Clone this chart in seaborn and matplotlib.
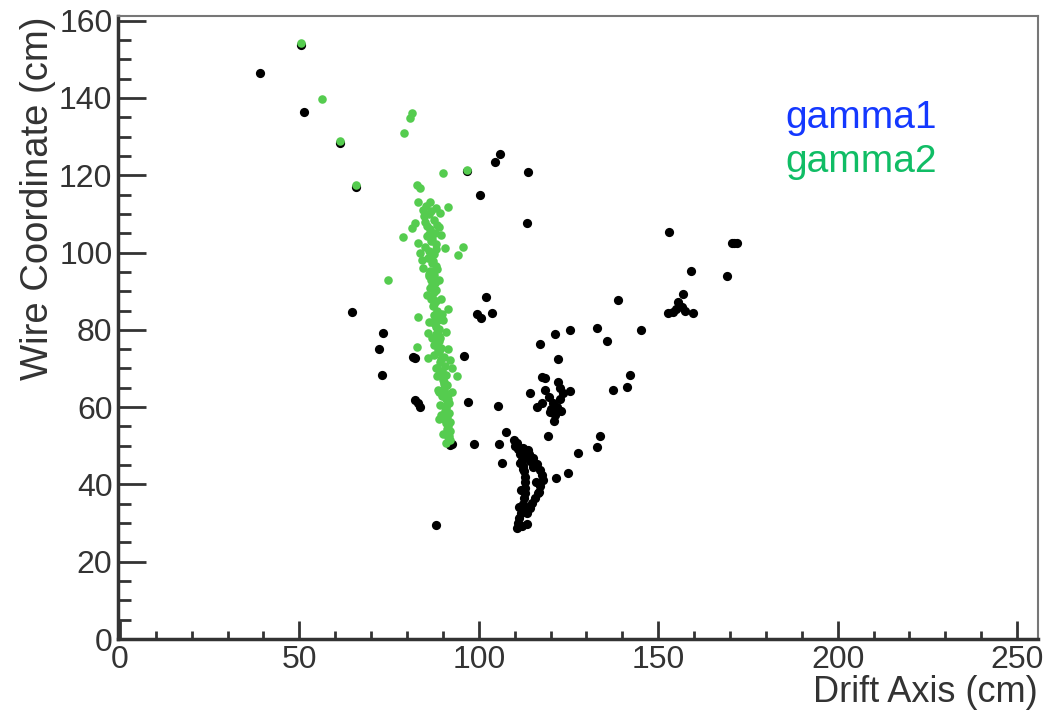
import numpy as np
import pandas as pd
import matplotlib
matplotlib.use("Agg")
import matplotlib.pyplot as plt
from matplotlib.ticker import MultipleLocator
import seaborn as sns

# ---- data ----
black_x = [39.0, 51.3, 64.7, 73.3, 72.2, 73.0, 81.7, 82.2, 82.2, 83.0, 83.6, 95.9, 97.0, 92.5, 88.0,
           100.3, 104.5, 106.0, 113.7, 113.4, 102.0, 99.5, 100.6, 103.7, 105.4, 107.6, 98.7, 105.6,
           119.3, 133.8, 133.0, 117.0, 121.2, 125.4, 133.0, 135.7, 138.8, 145.2, 122.0, 117.6, 118.5,
           114.3, 118.5, 122.6, 125.4, 123.5, 116.2, 117.6, 119.8, 121.2, 121.8, 120.7, 122.5, 121.0,
           137.4, 141.3, 142.1, 152.7, 155.5, 156.9, 156.6, 159.7, 154.0, 159.1, 169.2, 170.6, 172.0,
           153.0, 127.6, 124.9, 121.5, 106.5,
           110.6, 110.9, 111.3, 111.7, 112.0, 112.3, 112.6, 112.9, 113.0, 112.9, 112.9, 112.6, 112.3,
           112.0, 111.5, 111.0, 110.6, 113.4, 114.2, 114.8, 115.6, 116.5, 117.2, 117.9, 117.5, 117.0,
           116.1, 115.1, 114.0, 109.8, 113.0, 113.5, 112.0, 50.4, 61.3, 65.8, 96.7, 92.0,
           111.2, 111.8, 112.4, 113.6, 114.2, 115.2, 116.0, 116.8, 113.8, 112.2, 110.2, 111.6,
           120.0, 123.0, 119.5, 122.0, 155.0, 157.5, 171.2]
black_y = [146.5, 136.4, 84.7, 79.2, 75.1, 68.4, 73.0, 72.8, 61.9, 61.1, 60.1, 73.3, 61.4, 50.5, 29.5,
           115.0, 123.5, 125.5, 120.9, 107.7, 88.5, 84.1, 83.1, 84.4, 60.3, 53.6, 50.5, 50.5,
           52.6, 52.6, 49.7, 76.4, 79.0, 80.0, 80.5, 77.2, 87.8, 80.0, 72.5, 67.8, 67.6,
           63.7, 64.5, 65.0, 64.2, 63.7, 60.1, 61.1, 58.8, 58.0, 60.1, 61.1, 62.0, 56.5,
           64.5, 65.2, 68.4, 84.4, 87.2, 89.3, 86.0, 84.4, 84.5, 95.3, 94.0, 102.5, 102.5,
           105.4, 48.2, 43.0, 41.7, 45.6,
           28.7, 30.0, 31.3, 32.6, 33.8, 35.0, 36.5, 37.8, 39.2, 40.6, 41.9, 43.4, 44.8,
           46.3, 47.8, 49.2, 50.7, 32.6, 33.9, 35.2, 36.5, 37.8, 39.5, 41.2, 42.5, 43.8,
           45.3, 46.9, 48.0, 51.5, 47.5, 29.8, 29.3, 153.8, 128.4, 117.0, 121.0, 50.3,
           34.2, 38.5, 44.0, 34.0, 46.0, 44.5, 40.5, 38.0, 49.0, 49.5, 50.0, 45.5,
           59.5, 59.0, 62.5, 66.5, 85.5, 85.0, 102.5]

green_x = [50.4, 56.3, 61.3, 65.8, 74.7, 80.8, 81.3, 79.2, 90.0, 96.7, 82.8, 83.5, 83.0, 86.4, 84.4,
           85.2, 89.2, 91.4, 82.2, 81.4, 78.9, 90.6, 95.6, 94.2, 83.0, 83.6, 83.0, 91.4, 82.8, 85.8,
           92.0, 93.9, 88.6, 85.8,
           87.5, 88.5, 86.5, 87.8, 85.5, 86.8, 88.2, 85.0, 86.2, 87.5, 85.8, 86.9, 88.0, 86.3, 87.4,
           86.7, 87.9, 86.5, 87.6, 86.9, 88.1, 87.2, 88.3, 87.5, 88.6, 87.8, 88.9, 88.1, 89.3, 88.5,
           89.6, 88.9, 90.2, 89.3, 90.5, 89.7, 90.9, 90.1, 91.2, 90.4, 91.5, 90.8, 91.6, 90.9, 91.8,
           91.2, 91.9, 91.4, 92.0, 91.6, 91.9,
           85.0, 89.5, 84.5, 89.0, 85.5, 89.5, 86.0, 90.0, 87.0, 90.8, 87.5, 91.5, 88.5, 92.5, 89.2,
           92.6, 86.0, 88.0, 84.2, 87.0, 89.8, 88.3, 90.3, 89.0, 86.2, 88.8,
           86.0, 87.0, 88.0, 86.4, 87.3, 88.4, 86.1, 87.2, 88.2, 86.6, 87.6, 88.6, 87.0, 88.0, 89.0,
           87.6, 88.6, 89.6, 88.2, 89.2, 90.2, 88.8, 89.8, 90.8, 89.4, 90.4, 91.2, 90.0, 91.0, 90.6,
           91.3, 91.0, 91.5, 84.8, 85.6, 86.8, 89.0]
green_y = [154.3, 139.8, 128.9, 117.5, 92.9, 134.9, 136.2, 131.0, 120.6, 121.4, 117.5, 116.8, 113.1,
           113.1, 111.1, 112.0, 110.3, 111.8, 107.7, 106.4, 104.0, 101.2, 101.5, 99.4, 102.5, 99.9,
           83.4, 85.4, 75.6, 72.8, 72.2, 68.1, 64.5, 79.2,
           108.5, 107.0, 106.0, 105.0, 104.2, 103.0, 102.2, 101.5, 100.5, 99.6, 98.5, 97.4, 96.5, 95.3,
           94.2, 93.0, 92.0, 90.8, 89.7, 88.5, 87.4, 86.2, 85.0, 83.8, 82.6, 81.4, 80.2, 79.0, 77.8,
           76.6, 75.4, 74.2, 73.0, 71.8, 70.6, 69.4, 68.2, 67.0, 65.8, 64.6, 63.4, 62.2, 61.0, 59.8,
           58.6, 57.4, 56.2, 55.0, 53.8, 52.6, 51.5,
           108.0, 104.5, 96.0, 93.0, 89.0, 88.0, 82.0, 82.5, 78.0, 79.5, 73.5, 75.0, 68.0, 70.0, 60.5,
           64.0, 110.0, 111.5, 98.0, 91.5, 84.0, 70.0, 66.0, 57.0, 94.5, 77.0,
           104.8, 103.6, 101.0, 99.0, 97.9, 95.8, 94.0, 92.6, 90.2, 88.0, 86.8, 84.4, 82.0, 80.8, 78.4,
           76.0, 74.8, 72.4, 70.0, 68.8, 66.4, 64.0, 62.8, 60.4, 58.0, 56.8, 54.4, 53.0, 50.8, 59.0,
           62.0, 55.8, 52.2, 109.5, 106.8, 110.8, 106.5]

legend_labels = ["gamma1", "gamma2"]
legend_colors = ["#1438ff", "#10bd65"]

df = pd.DataFrame({
    "drift": black_x + green_x,
    "wire": black_y + green_y,
    "track": ["hits"] * len(black_x) + ["gamma2"] * len(green_x),
})

sns.set_style("ticks")
plt.rcParams["font.family"] = ["Liberation Sans", "DejaVu Sans"]

fig = plt.figure(figsize=(10.51, 7.18), dpi=100)
ax = fig.add_axes([0.1123, 0.11, 0.8753, 0.8677])

sns.scatterplot(data=df[df.track == "hits"], x="drift", y="wire", color="black",
                s=44, linewidth=0, ax=ax, legend=False)
sns.scatterplot(data=df[df.track == "gamma2"], x="drift", y="wire", color="#55cc4f",
                s=38, linewidth=0, ax=ax, legend=False)

ax.set_xlim(-0.5, 255.8)
ax.set_ylim(0, 161.2)
ax.xaxis.set_major_locator(MultipleLocator(50))
ax.xaxis.set_minor_locator(MultipleLocator(10))
ax.yaxis.set_major_locator(MultipleLocator(20))
ax.yaxis.set_minor_locator(MultipleLocator(5))

ax.tick_params(axis="both", which="both", direction="in", colors="#333333",
               top=False, right=False, labelsize=23)
ax.tick_params(axis="x", which="major", length=13, width=2, pad=4)
ax.tick_params(axis="x", which="minor", length=6, width=2)
ax.tick_params(axis="y", which="major", length=20, width=2, pad=4)
ax.tick_params(axis="y", which="minor", length=9, width=2)
for lab in ax.get_xticklabels() + ax.get_yticklabels():
    lab.set_color("#333333")

for side in ["left", "bottom"]:
    ax.spines[side].set_linewidth(2.5)
    ax.spines[side].set_color("#333333")
for side in ["top", "right"]:
    ax.spines[side].set_visible(True)
    ax.spines[side].set_linewidth(1.5)
    ax.spines[side].set_color("#777777")

ax.set_xlabel("Drift Axis (cm)", fontsize=26, loc="right", color="#333333", labelpad=0)
ax.set_ylabel("Wire Coordinate (cm)", fontsize=27.5, loc="top", color="#333333", labelpad=2)

fig.text(0.747, 0.836, legend_labels[0], color=legend_colors[0], fontsize=28, va="center", ha="left")
fig.text(0.747, 0.775, legend_labels[1], color=legend_colors[1], fontsize=28, va="center", ha="left")

fig.savefig("out.png", dpi=100, facecolor="white")
